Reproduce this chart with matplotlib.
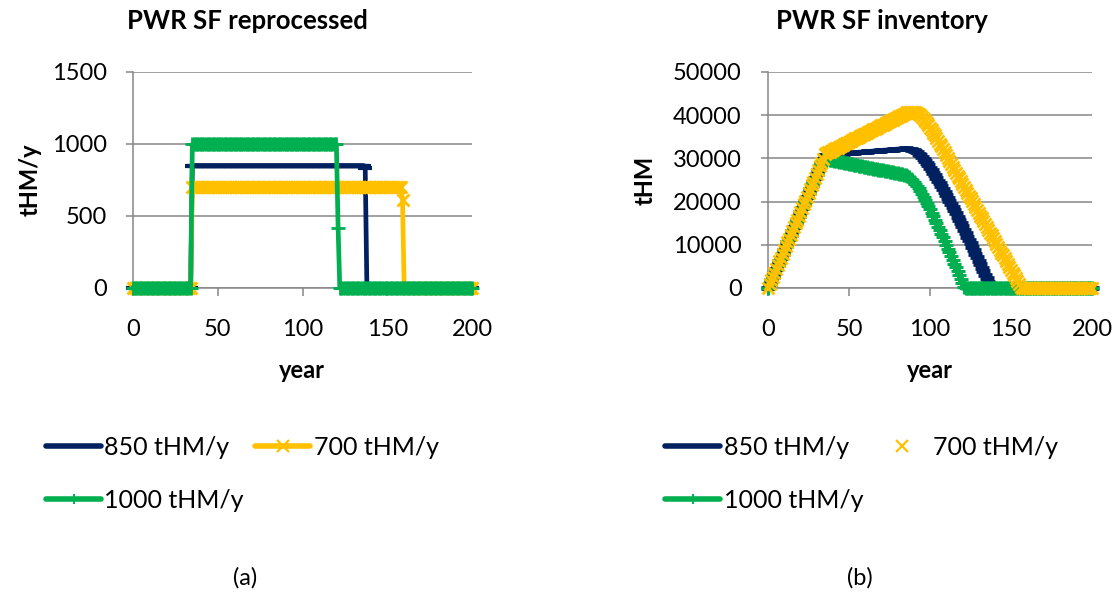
import matplotlib
matplotlib.use("Agg")
import matplotlib.pyplot as plt
from matplotlib.lines import Line2D

plt.rcParams['font.family'] = ['Lato', 'DejaVu Sans']

# ---------------- data ----------------
years = list(range(0, 201))

rep_850 = [
    0, 0, 0, 0, 0, 0, 0, 0, 0, 0, 0, 0, 0, 0, 0, 0, 0, 0, 0, 0,
    0, 0, 0, 0, 0, 0, 0, 0, 0, 0, 0, 0, 0, 0, 0, 850, 850, 850, 850, 850,
    850, 850, 850, 850, 850, 850, 850, 850, 850, 850, 850, 850, 850, 850, 850, 850, 850, 850, 850, 850,
    850, 850, 850, 850, 850, 850, 850, 850, 850, 850, 850, 850, 850, 850, 850, 850, 850, 850, 850, 850,
    850, 850, 850, 850, 850, 850, 850, 850, 850, 850, 850, 850, 850, 850, 850, 850, 850, 850, 850, 850,
    850, 850, 850, 850, 850, 850, 850, 850, 850, 850, 850, 850, 850, 850, 850, 850, 850, 850, 850, 850,
    850, 850, 850, 850, 850, 850, 850, 850, 850, 850, 850, 850, 850, 850, 850, 850, 850, 830, 0, 0,
    0, 0, 0, 0, 0, 0, 0, 0, 0, 0, 0, 0, 0, 0, 0, 0, 0, 0, 0, 0,
    0, 0, 0, 0, 0, 0, 0, 0, 0, 0, 0, 0, 0, 0, 0, 0, 0, 0, 0, 0,
    0, 0, 0, 0, 0, 0, 0, 0, 0, 0, 0, 0, 0, 0, 0, 0, 0, 0, 0, 0,
    0]

rep_700 = [
    0, 0, 0, 0, 0, 0, 0, 0, 0, 0, 0, 0, 0, 0, 0, 0, 0, 0, 0, 0,
    0, 0, 0, 0, 0, 0, 0, 0, 0, 0, 0, 0, 0, 0, 0, 700, 700, 700, 700, 700,
    700, 700, 700, 700, 700, 700, 700, 700, 700, 700, 700, 700, 700, 700, 700, 700, 700, 700, 700, 700,
    700, 700, 700, 700, 700, 700, 700, 700, 700, 700, 700, 700, 700, 700, 700, 700, 700, 700, 700, 700,
    700, 700, 700, 700, 700, 700, 700, 700, 700, 700, 700, 700, 700, 700, 700, 700, 700, 700, 700, 700,
    700, 700, 700, 700, 700, 700, 700, 700, 700, 700, 700, 700, 700, 700, 700, 700, 700, 700, 700, 700,
    700, 700, 700, 700, 700, 700, 700, 700, 700, 700, 700, 700, 700, 700, 700, 700, 700, 700, 700, 700,
    700, 700, 700, 700, 700, 700, 700, 700, 700, 700, 700, 700, 700, 700, 700, 700, 700, 700, 700, 610,
    0, 0, 0, 0, 0, 0, 0, 0, 0, 0, 0, 0, 0, 0, 0, 0, 0, 0, 0, 0,
    0, 0, 0, 0, 0, 0, 0, 0, 0, 0, 0, 0, 0, 0, 0, 0, 0, 0, 0, 0,
    0]

rep_1000 = [
    0, 0, 0, 0, 0, 0, 0, 0, 0, 0, 0, 0, 0, 0, 0, 0, 0, 0, 0, 0,
    0, 0, 0, 0, 0, 0, 0, 0, 0, 0, 0, 0, 0, 0, 0, 1000, 1000, 1000, 1000, 1000,
    1000, 1000, 1000, 1000, 1000, 1000, 1000, 1000, 1000, 1000, 1000, 1000, 1000, 1000, 1000, 1000, 1000, 1000, 1000, 1000,
    1000, 1000, 1000, 1000, 1000, 1000, 1000, 1000, 1000, 1000, 1000, 1000, 1000, 1000, 1000, 1000, 1000, 1000, 1000, 1000,
    1000, 1000, 1000, 1000, 1000, 1000, 1000, 1000, 1000, 1000, 1000, 1000, 1000, 1000, 1000, 1000, 1000, 1000, 1000, 1000,
    1000, 1000, 1000, 1000, 1000, 1000, 1000, 1000, 1000, 1000, 1000, 1000, 1000, 1000, 1000, 1000, 1000, 1000, 1000, 1000,
    1000, 420, 0, 0, 0, 0, 0, 0, 0, 0, 0, 0, 0, 0, 0, 0, 0, 0, 0, 0,
    0, 0, 0, 0, 0, 0, 0, 0, 0, 0, 0, 0, 0, 0, 0, 0, 0, 0, 0, 0,
    0, 0, 0, 0, 0, 0, 0, 0, 0, 0, 0, 0, 0, 0, 0, 0, 0, 0, 0, 0,
    0, 0, 0, 0, 0, 0, 0, 0, 0, 0, 0, 0, 0, 0, 0, 0, 0, 0, 0, 0,
    0]

inv_850 = [
    0, 880, 1760, 2640, 3520, 4400, 5280, 6160, 7040, 7920,
    8800, 9680, 10560, 11440, 12320, 13200, 14080, 14960, 15840, 16720,
    17600, 18480, 19360, 20240, 21120, 22000, 22880, 23760, 24640, 25520,
    26400, 27280, 28160, 29040, 29920, 30800, 30830, 30860, 30890, 30920,
    30950, 30980, 31010, 31040, 31070, 31100, 31130, 31160, 31190, 31220,
    31250, 31280, 31310, 31340, 31370, 31400, 31430, 31460, 31490, 31520,
    31550, 31580, 31610, 31640, 31670, 31700, 31730, 31760, 31790, 31820,
    31850, 31880, 31910, 31940, 31970, 32000, 32030, 32060, 32090, 32120,
    32150, 32180, 32210, 32240, 32270, 32300, 32280, 32230, 32150, 32030,
    31870, 31660, 31400, 31090, 30740, 30350, 29920, 29450, 28950, 28420,
    27870, 27300, 26710, 26100, 25480, 24850, 24210, 23560, 22900, 22230,
    21550, 20860, 20160, 19450, 18730, 18000, 17260, 16510, 15760, 15000,
    14240, 13470, 12700, 11920, 11140, 10350, 9560, 8760, 7960, 7150,
    6340, 5520, 4700, 3870, 3040, 2200, 1360, 520, 0, 0,
    0, 0, 0, 0, 0, 0, 0, 0, 0, 0,
    0, 0, 0, 0, 0, 0, 0, 0, 0, 0,
    0, 0, 0, 0, 0, 0, 0, 0, 0, 0,
    0, 0, 0, 0, 0, 0, 0, 0, 0, 0,
    0, 0, 0, 0, 0, 0, 0, 0, 0, 0,
    0, 0, 0, 0, 0, 0, 0, 0, 0, 0,
    0]

inv_700 = [
    0, 880, 1760, 2640, 3520, 4400, 5280, 6160, 7040, 7920,
    8800, 9680, 10560, 11440, 12320, 13200, 14080, 14960, 15840, 16720,
    17600, 18480, 19360, 20240, 21120, 22000, 22880, 23760, 24640, 25520,
    26400, 27280, 28160, 29040, 29920, 31000, 31190, 31380, 31570, 31760,
    31950, 32140, 32330, 32520, 32710, 32900, 33090, 33280, 33470, 33660,
    33850, 34040, 34230, 34420, 34610, 34800, 34990, 35180, 35370, 35560,
    35750, 35940, 36130, 36320, 36510, 36700, 36890, 37080, 37270, 37460,
    37650, 37840, 38030, 38220, 38410, 38600, 38790, 38980, 39170, 39360,
    39550, 39740, 39930, 40120, 40310, 40500, 40650, 40750, 40800, 40800,
    40750, 40640, 40470, 40240, 39950, 39600, 39190, 38730, 38230, 37700,
    37140, 36560, 35960, 35340, 34710, 34070, 33420, 32760, 32090, 31420,
    30740, 30060, 29380, 28700, 28020, 27340, 26680, 26020, 25360, 24700,
    24040, 23380, 22720, 22060, 21400, 20740, 20080, 19420, 18760, 18100,
    17440, 16780, 16120, 15460, 14800, 14140, 13480, 12820, 12160, 11500,
    10840, 10180, 9520, 8860, 8200, 7540, 6880, 6220, 5560, 4900,
    4240, 3580, 2920, 2260, 1600, 940, 280, 0, 0, 0,
    0, 0, 0, 0, 0, 0, 0, 0, 0, 0,
    0, 0, 0, 0, 0, 0, 0, 0, 0, 0,
    0, 0, 0, 0, 0, 0, 0, 0, 0, 0,
    0, 0, 0, 0, 0, 0, 0, 0, 0, 0,
    0]

inv_1000 = [
    0, 880, 1760, 2640, 3520, 4400, 5280, 6160, 7040, 7920,
    8800, 9680, 10560, 11440, 12320, 13200, 14080, 14960, 15840, 16720,
    17600, 18480, 19360, 20240, 21120, 22000, 22880, 23760, 24640, 25520,
    26400, 27280, 28160, 29040, 29920, 29900, 29825, 29750, 29675, 29600,
    29525, 29450, 29375, 29300, 29225, 29150, 29075, 29000, 28925, 28850,
    28775, 28700, 28625, 28550, 28475, 28400, 28325, 28250, 28175, 28100,
    28025, 27950, 27875, 27800, 27725, 27650, 27575, 27500, 27425, 27350,
    27275, 27200, 27125, 27050, 26975, 26900, 26825, 26750, 26675, 26600,
    26525, 26450, 26375, 26300, 26200, 26060, 25870, 25630, 25340, 25000,
    24600, 24150, 23650, 23100, 22500, 21860, 21180, 20470, 19740, 18990,
    18220, 17440, 16650, 15850, 15040, 14220, 13390, 12550, 11710, 10860,
    10000, 9140, 8270, 7400, 6520, 5640, 4750, 3860, 2970, 2070,
    1170, 270, 0, 0, 0, 0, 0, 0, 0, 0,
    0, 0, 0, 0, 0, 0, 0, 0, 0, 0,
    0, 0, 0, 0, 0, 0, 0, 0, 0, 0,
    0, 0, 0, 0, 0, 0, 0, 0, 0, 0,
    0, 0, 0, 0, 0, 0, 0, 0, 0, 0,
    0, 0, 0, 0, 0, 0, 0, 0, 0, 0,
    0, 0, 0, 0, 0, 0, 0, 0, 0, 0,
    0, 0, 0, 0, 0, 0, 0, 0, 0, 0,
    0]

labels = ['850 tHM/y', '700 tHM/y', '1000 tHM/y']
titles = ['PWR SF reprocessed', 'PWR SF inventory']
ylabels = ['tHM/y', 'tHM']
xlabel = 'year'
captions = ['(a)', '(b)']
yticks_a = [0, 500, 1000, 1500]
yticks_b = [0, 10000, 20000, 30000, 40000, 50000]
xticks = [0, 50, 100, 150, 200]

# ---------------- style ----------------
NAVY = '#002060'
GOLD = '#FFC000'
GREEN = '#00B050'
GRID = '#868686'
W, H = 1119, 598
FS = 17
LFS = 18

fig = plt.figure(figsize=(W / 100, H / 100), dpi=100)


def fx(px):
    return px / W


def fy(py):
    return 1 - py / H


ax1 = fig.add_axes([fx(133), fy(288), (472 - 133) / W, 216 / H])
ax2 = fig.add_axes([fx(768), fy(288), (1092 - 768) / W, 216 / H])


def style(ax, yt):
    ax.set_xlim(0, 200)
    ax.set_ylim(yt[0], yt[-1])
    ax.set_xticks(xticks)
    ax.set_yticks(yt)
    ax.grid(axis='y', color=GRID, lw=1.1)
    ax.set_axisbelow(True)
    for s in ['top', 'right']:
        ax.spines[s].set_visible(False)
    for s in ['left', 'bottom']:
        ax.spines[s].set_color(GRID)
        ax.spines[s].set_linewidth(1.1)
    ax.tick_params(axis='x', direction='out', length=6, width=1.1, color=GRID,
                   labelsize=FS, pad=16)
    ax.tick_params(axis='y', direction='out', length=5, width=1.1, color=GRID,
                   labelsize=FS, pad=14)


style(ax1, yticks_a)
style(ax2, yticks_b)

# left panel
ax1.plot(years, rep_850, color=NAVY, lw=3.4, marker='_', ms=10, mew=3,
         clip_on=False, zorder=3)
ax1.plot(years, rep_700, color=GOLD, lw=3.4, marker='x', ms=8.5, mew=2,
         clip_on=False, zorder=4)
ax1.plot(years, rep_1000, color=GREEN, lw=3.4, marker='+', ms=9.5, mew=2,
         clip_on=False, zorder=5)

# right panel
ax2.plot(years, inv_850, color=NAVY, lw=3.4, marker='_', ms=10.5, mew=3.4,
         clip_on=False, zorder=3)
ax2.plot(years, inv_1000, color=GREEN, lw=3.4, marker='+', ms=10, mew=2.2,
         clip_on=False, zorder=4)
ax2.plot(years, inv_700, color=GOLD, lw=0, marker='x', ms=8.5, mew=2,
         clip_on=False, zorder=5)

# titles / labels
fig.text(fx(247), fy(21), titles[0], ha='center', va='center',
         fontsize=18.5, fontweight='bold')
fig.text(fx(882), fy(21), titles[1], ha='center', va='center',
         fontsize=18.5, fontweight='bold')
fig.text(fx(30), fy(180), ylabels[0], ha='center', va='center',
         rotation=90, fontsize=FS, fontweight='bold')
fig.text(fx(645), fy(180), ylabels[1], ha='center', va='center',
         rotation=90, fontsize=FS, fontweight='bold')
fig.text(fx(302), fy(370), xlabel, ha='center', va='center',
         fontsize=FS, fontweight='bold')
fig.text(fx(930), fy(370), xlabel, ha='center', va='center',
         fontsize=FS, fontweight='bold')
fig.text(fx(245), fy(578), captions[0], ha='center', va='center', fontsize=FS)
fig.text(fx(860), fy(578), captions[1], ha='center', va='center', fontsize=FS)

# legends
hl = [Line2D([], [], color=NAVY, lw=4, solid_capstyle='round'),
      Line2D([], [], color=GOLD, lw=4, marker='x', ms=8, mew=1.6, solid_capstyle='round'),
      Line2D([], [], color=GREEN, lw=4, marker='|', ms=7, mew=1.4, solid_capstyle='round')]
hr = [Line2D([], [], color=NAVY, lw=4, solid_capstyle='round'),
      Line2D([], [], color=GOLD, lw=0, marker='x', ms=8, mew=1.6),
      Line2D([], [], color=GREEN, lw=4, marker='|', ms=7, mew=1.4, solid_capstyle='round')]
order = [0, 2, 1]
for hs, x0 in [(hl, 46), (hr, 665)]:
    fig.legend([hs[i] for i in order], [labels[i] for i in order], ncol=2,
               loc='upper left', bbox_to_anchor=(fx(x0), fy(436)),
               frameon=False, fontsize=LFS, handlelength=2.2,
               handletextpad=0.14, columnspacing=0.45, labelspacing=1.2,
               borderpad=0, borderaxespad=0)

fig.savefig('out.png', dpi=100)
